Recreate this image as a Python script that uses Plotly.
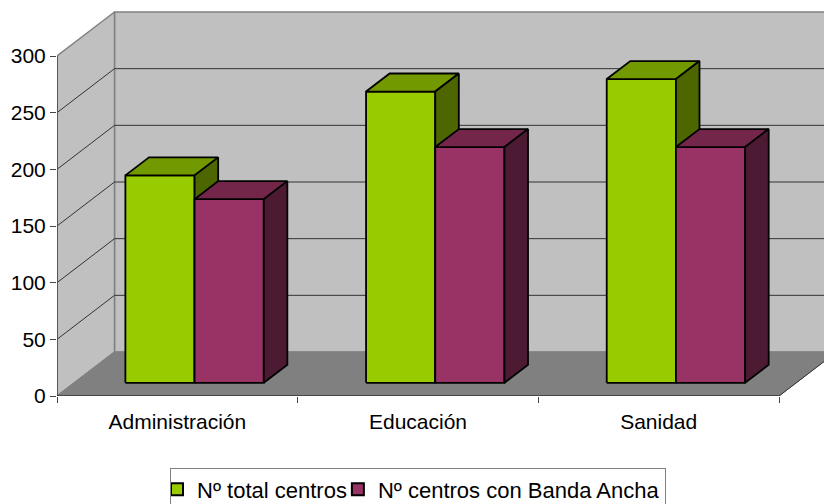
import plotly.graph_objects as go

categories = ["Administración", "Educación", "Sanidad"]
total_centros = [183, 257, 268]
banda_ancha = [162, 208, 208]
y_ticks = [0, 50, 100, 150, 200, 250, 300]
series_names = ["Nº total centros", "Nº centros con Banda Ancha"]
face_colors = [("#99CC00", "#739900", "#4D6600"), ("#993366", "#732649", "#4D1A33")]

W, H = 824, 504
L, B, T = 57, 108, 0
X_SCALE = 722 / 3
Y_SCALE = 340 / 300
DEPTH_DX = 57.5 / X_SCALE
DEPTH_DY = 44 / Y_SCALE
BAR_W = 0.2875
BAR_GAP = 0.2125
D0, D1 = 0.30, 0.71
XMAX = (W - L) / X_SCALE
YMAX = (H - B - T) / Y_SCALE


def P(x, y, d):
    return x + d * DEPTH_DX, y + d * DEPTH_DY


def poly(points, fill, line_color, width):
    pts = [P(*p) for p in points] + [P(*points[0])]
    return go.Scatter(x=[p[0] for p in pts], y=[p[1] for p in pts], mode="lines", fill="toself",
                      fillcolor=fill, line=dict(color=line_color, width=width, shape="linear"),
                      showlegend=False, hoverinfo="skip")


def seg(points, color, width, clip=True):
    pts = [P(*p) for p in points]
    return go.Scatter(x=[p[0] for p in pts], y=[p[1] for p in pts], mode="lines",
                      line=dict(color=color, width=width), showlegend=False, hoverinfo="skip", cliponaxis=clip)


n = len(categories)
top = y_ticks[-1]
fig = go.Figure()
fig.add_trace(poly([(0, 0, 1), (n, 0, 1), (n, top, 1), (0, top, 1)], "#C0C0C0", "#808080", 1.5))
fig.add_trace(poly([(0, 0, 0), (0, 0, 1), (0, top, 1), (0, top, 0)], "#C0C0C0", "#808080", 1.5))
fig.add_trace(poly([(0, 0, 0), (n, 0, 0), (n, 0, 1), (0, 0, 1)], "#808080", "#808080", 1))
fig.add_trace(seg([(n, 0, 0), (n, 0, 1)], "#333333", 1))
for v in y_ticks[1:-1]:
    fig.add_trace(seg([(0, v, 0), (0, v, 1), (n, v, 1)], "#333333", 1))

for c in range(n):
    for s, vals in enumerate([total_centros, banda_ancha]):
        v = vals[c]
        x0 = c + BAR_GAP + s * BAR_W
        x1 = x0 + BAR_W
        front, top_c, side = face_colors[s]
        fig.add_trace(poly([(x0, 0, D0), (x1, 0, D0), (x1, v, D0), (x0, v, D0)], front, "#000000", 1.8))
        fig.add_trace(poly([(x0, v, D0), (x1, v, D0), (x1, v, D1), (x0, v, D1)], top_c, "#000000", 1.8))
        fig.add_trace(poly([(x1, 0, D0), (x1, 0, D1), (x1, v, D1), (x1, v, D0)], side, "#000000", 1.8))

fig.add_trace(seg([(0, 0, 0), (0, top, 0)], "#444444", 1.5, clip=False))
fig.add_trace(seg([(0, 0, 0), (n, 0, 0)], "#333333", 1.5, clip=False))

for s, name in enumerate(series_names):
    fig.add_trace(go.Scatter(x=[None], y=[None], mode="markers", name=name,
                             marker=dict(symbol="square", size=12, color=face_colors[s][0],
                                         line=dict(color="#000000", width=1.5))))

font = dict(family="Liberation Sans, Arial, sans-serif", size=21, color="#000000")
legend_font = dict(family="Liberation Sans, Arial, sans-serif", size=22, color="#000000")
fig.update_layout(
    width=W, height=H, autosize=False,
    margin=dict(l=L, r=0, t=T, b=B, pad=0),
    paper_bgcolor="#FFFFFF", plot_bgcolor="#FFFFFF", font=font,
    xaxis=dict(range=[0, XMAX], tickmode="array", tickvals=[i + 0.5 for i in range(n)], ticktext=categories,
               ticks="", ticklen=0, showgrid=False, zeroline=False, showline=False, ticklabelstandoff=11,
               fixedrange=True, minor=dict(tickmode="array", tickvals=list(range(n + 1)), ticks="outside",
                                           ticklen=6, tickcolor="#444444", tickwidth=1, showgrid=False)),
    yaxis=dict(range=[0, YMAX], tickmode="array", tickvals=y_ticks, ticks="outside", ticklen=6,
               tickcolor="#444444", tickwidth=1, showgrid=False, zeroline=False, showline=False, fixedrange=True),
    legend=dict(orientation="h", xref="container", x=170 / W, xanchor="left", yanchor="top", yref="container",
                y=1 - 467.5 / H, bordercolor="#808080", borderwidth=1, bgcolor="#FFFFFF", font=legend_font,
                itemsizing="constant", indentation=-14),
)
fig.write_html("out.html", config=dict(displayModeBar=False),
               post_script="document.body.style.margin='0';document.documentElement.style.overflow='hidden';")
